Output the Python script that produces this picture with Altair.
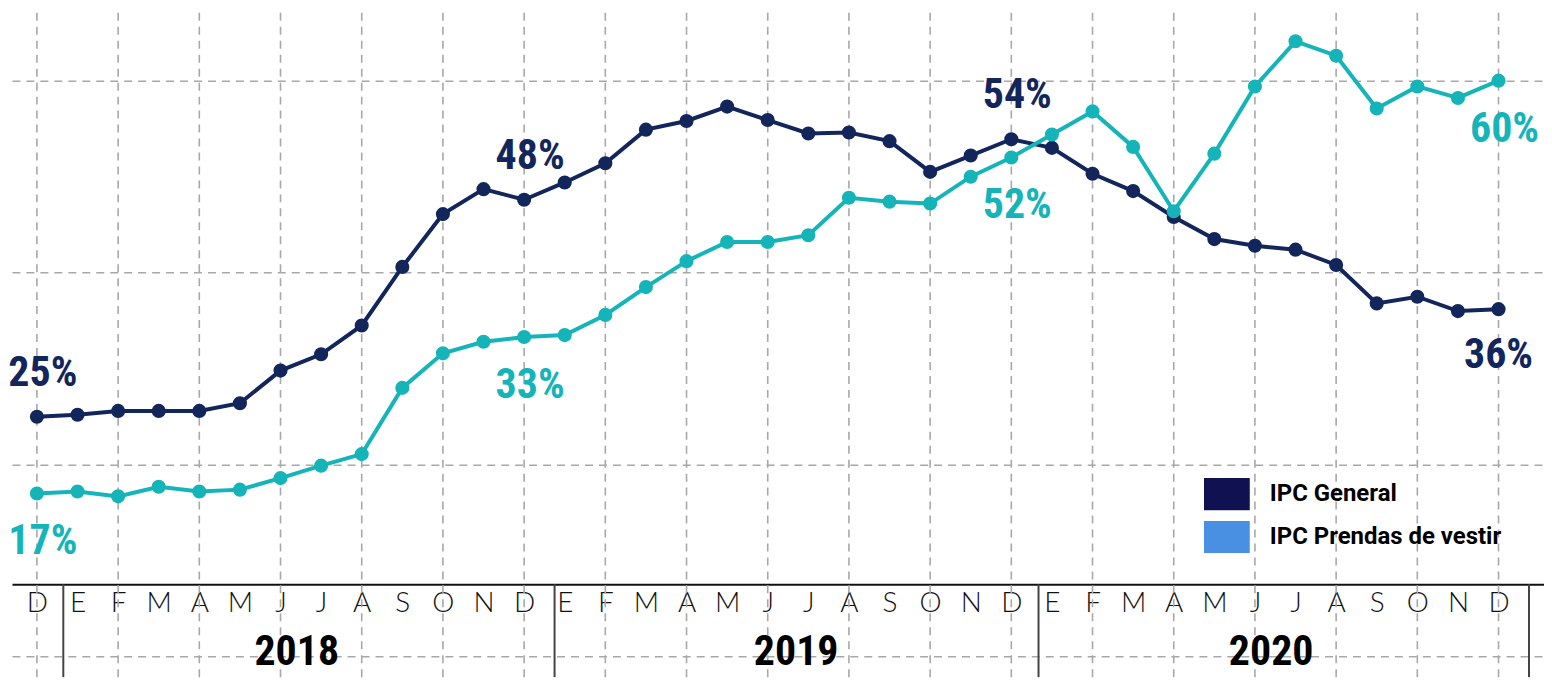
import altair as alt
import pandas as pd

# ---- data -------------------------------------------------------------
meses = ["D"] + ["E", "F", "M", "A", "M", "J", "J", "A", "S", "O", "N", "D"] * 3
anios = ["2018", "2019", "2020"]

ipc_general = [25.0, 25.2, 25.6, 25.6, 25.6, 26.4, 29.8, 31.5, 34.5, 40.6, 46.1, 48.7, 47.6,
               49.4, 51.4, 54.9, 55.8, 57.3, 55.9, 54.5, 54.6, 53.7, 50.5, 52.2, 53.9,
               53.0, 50.3, 48.5, 45.8, 43.5, 42.8, 42.4, 40.8, 36.8, 37.5, 36.0, 36.2]
ipc_prendas = [17.0, 17.2, 16.7, 17.7, 17.2, 17.4, 18.6, 19.9, 21.1, 28.0, 31.6, 32.8, 33.3,
               33.5, 35.6, 38.5, 41.2, 43.2, 43.2, 43.9, 47.8, 47.4, 47.2, 50.0, 52.0,
               54.4, 56.8, 53.1, 46.4, 52.4, 59.4, 64.1, 62.6, 57.1, 59.4, 58.2, 60.0]
series = ["IPC General", "IPC Prendas de vestir"]
label_idx = [0, 12, 24, 36]

# ---- styles -----------------------------------------------------------
NAVY = "#13265c"
TEAL = "#14b4b9"
W, H = 1536, 670
COND = "Liberation Sans Narrow, Roboto Condensed, DejaVu Sans Condensed, sans-serif"

rows = []
for i, (g, p) in enumerate(zip(ipc_general, ipc_prendas)):
    rows.append({"idx": i, "serie": series[0], "valor": g})
    rows.append({"idx": i, "serie": series[1], "valor": p})
df = pd.DataFrame(rows)
df["txt"] = df["valor"].round().astype(int).astype(str) + "%"

xscale = alt.Scale(domain=[-0.614, 37.12], nice=False, zero=False)
yscale = alt.Scale(domain=[-2.13, 67.48], nice=False, zero=False)

label_expr = "[" + ",".join("'%s'" % m for m in meses) + "][datum.value]"
xaxis = alt.Axis(values=list(range(len(meses))), labelExpr=label_expr, grid=False,
                 ticks=False, domain=True, domainColor="#111", domainWidth=2,
                 offset=-93, labelFont="Lato", labelFontWeight=300, labelFontSize=28,
                 labelColor="#111", labelPadding=5, labelFlush=False, labelOverlap=False,
                 labelAngle=0, title=None, minExtent=0, maxExtent=0)
yaxis = alt.Axis(values=[0, 20, 40, 60], grid=True, gridDash=[8, 6], gridColor="#a8a8a8",
                 gridWidth=1.6, labels=False, ticks=False, domain=False, title=None,
                 minExtent=0, maxExtent=0)

X = alt.X("idx:Q", scale=xscale, axis=xaxis)
Y = alt.Y("valor:Q", scale=yscale, axis=yaxis)

# vertical dashed grid every two months
vgrid = alt.Chart(pd.DataFrame({"idx": list(range(0, len(meses), 2))})).mark_rule(
    strokeDash=[8, 6], color="#a8a8a8", strokeWidth=1.6
).encode(x=X, y=alt.value(4), y2=alt.value(H))

# year separators and year labels
sep = alt.Chart(pd.DataFrame({"idx": [0.65, 12.75, 24.67, 36.75]})).mark_rule(
    color="#444", strokeWidth=2
).encode(x=X, y=alt.value(577), y2=alt.value(H))

years = alt.Chart(pd.DataFrame({"idx": [6.4, 18.7, 30.4], "anio": anios})).mark_text(
    font=COND, fontWeight="bold", fontSize=42, color="#000", baseline="middle"
).encode(x=X, y=alt.value(645), text="anio:N")

def serie_layers(name, color):
    base = alt.Chart(df).transform_filter(alt.datum.serie == name)
    line = base.mark_line(color=color, strokeWidth=4).encode(x=X, y=Y)
    pts = base.mark_circle(color=color, size=200, opacity=1).encode(x=X, y=Y)
    return line, pts

gl, gp = serie_layers(series[0], NAVY)
pl, pp = serie_layers(series[1], TEAL)

lab = alt.Chart(df).transform_filter(
    alt.FieldOneOfPredicate(field="idx", oneOf=label_idx)
)
lab_gen_up = lab.transform_filter(
    (alt.datum.serie == series[0]) & (alt.datum.idx < 36)
).mark_text(font=COND, fontWeight="bold", fontSize=42, color=NAVY, dy=-44, dx=6).encode(
    x=X, y=Y, text="txt:N")
lab_gen_dn = lab.transform_filter(
    (alt.datum.serie == series[0]) & (alt.datum.idx == 36)
).mark_text(font=COND, fontWeight="bold", fontSize=42, color=NAVY, dy=46, dx=0).encode(
    x=X, y=Y, text="txt:N")
lab_pre = lab.transform_filter(alt.datum.serie == series[1]).mark_text(
    font=COND, fontWeight="bold", fontSize=42, color=TEAL, dy=48, dx=6).encode(
    x=X, y=Y, text="txt:N")

legend_layer = alt.Chart(df).mark_point(size=0, filled=True, opacity=0).encode(
    x=X, y=Y,
    fill=alt.Fill("serie:N",
                  scale=alt.Scale(domain=series, range=["#0f1150", "#4a90e2"]),
                  legend=alt.Legend(orient="none", legendX=1195, legendY=465, title=None,
                                    symbolType="M-1,-0.7H1V0.7H-1Z", symbolSize=2116,
                                    symbolOpacity=1, symbolStrokeWidth=0,
                                    labelFont="Roboto", labelFontWeight="bold",
                                    labelFontSize=24, labelColor="#000", labelOffset=20,
                                    clipHeight=43, rowPadding=0, padding=0,
                                    labelLimit=400)))

chart = alt.layer(
    vgrid, sep, years, gl, gp, pl, pp, lab_gen_up, lab_gen_dn, lab_pre, legend_layer
).properties(width=W, height=H, padding=0, background="white").configure_view(stroke=None)

chart.save("out.html", embed_options={"renderer": "svg", "actions": False})
